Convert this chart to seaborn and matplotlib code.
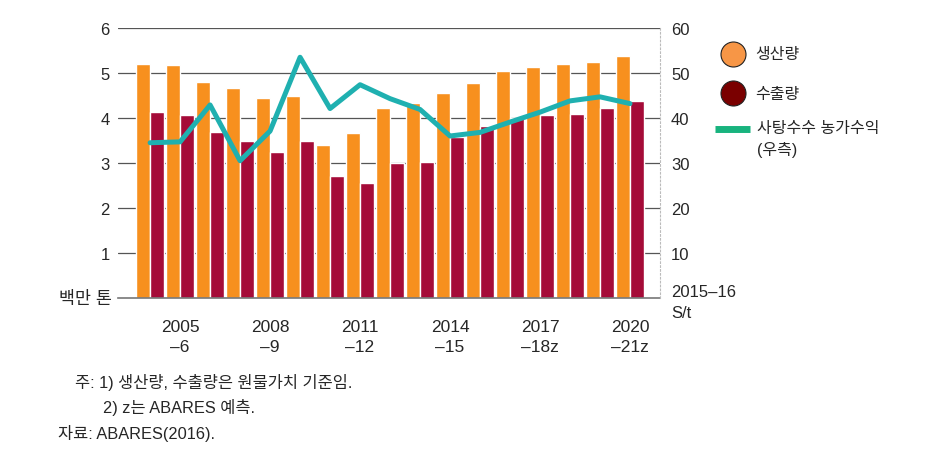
import matplotlib
matplotlib.use("Agg")
import matplotlib.pyplot as plt
import seaborn as sns
import pandas as pd
from matplotlib.lines import Line2D

# ---- data ----
years = ["2004-05", "2005-06", "2006-07", "2007-08", "2008-09", "2009-10",
         "2010-11", "2011-12", "2012-13", "2013-14", "2014-15", "2015-16",
         "2016-17", "2017-18", "2018-19", "2019-20", "2020-21"]
production = [5.21, 5.17, 4.80, 4.66, 4.45, 4.49, 3.40, 3.67, 4.23,
              4.34, 4.55, 4.77, 5.05, 5.14, 5.20, 5.25, 5.38]
exports = [4.14, 4.06, 3.70, 3.48, 3.25, 3.48, 2.72, 2.56, 2.99,
           3.03, 3.58, 3.82, 4.00, 4.06, 4.10, 4.22, 4.37]
income = [34.5, 34.7, 42.9, 30.5, 37.1, 53.5, 42.1, 47.4, 44.3,
          41.9, 36.0, 36.8, 39.1, 41.3, 43.8, 44.7, 43.2]
tick_labels = ["", "2005\n–6", "", "", "2008\n–9", "", "", "2011\n–12", "",
               "", "2014\n–15", "", "", "2017\n–18z", "", "", "2020\n–21z"]
series_names = ["생산량", "수출량"]
line_name = "사탕수수 농가수익\n(우측)"
left_ticks = [1, 2, 3, 4, 5, 6]
right_ticks = [0, 10, 20, 30, 40, 50, 60]
right_tick_labels = ["2015–16\nS/t", "10", "20", "30", "40", "50", "60"]
notes = ["주: 1) 생산량, 수출량은 원물가치 기준임.",
         "2) z는 ABARES 예측.",
         "자료: ABARES(2016)."]

sns.set_style("white")
plt.rcParams['font.family'] = ['Liberation Sans', 'Noto Sans CJK KR', 'DejaVu Sans']

ORANGE = "#F7901E"
RED = "#A50B38"
TEAL = "#1FB0B0"
GRID = "#555555"

df = pd.DataFrame({
    "year": years * 2,
    "value": production + exports,
    "series": [series_names[0]] * len(years) + [series_names[1]] * len(years),
})

fig = plt.figure(figsize=(9.4, 4.6), dpi=100)
W, H = 940, 460
ax = fig.add_axes([118 / W, 1 - 299 / H, (660 - 118) / W, (299 - 29) / H])

sns.barplot(data=df, x="year", y="value", hue="series", order=years,
            hue_order=series_names, palette=[ORANGE, RED], width=0.95,
            saturation=1, legend=False, ax=ax, zorder=2)
ax.set_ylim(0, 6)
ax.set_xlim(-1.07, 17.0)
ax.set_yticks(left_ticks)
ax.yaxis.grid(True, color=GRID, linewidth=0.9, zorder=0)
ax.set_axisbelow(True)
for s in ["left", "right", "top"]:
    ax.spines[s].set_visible(False)
ax.spines["bottom"].set_color("#777777")
ax.spines["bottom"].set_linewidth(1.2)
ax.set_xticks(range(len(years)))
ax.set_xticklabels(tick_labels, fontsize=12.5, linespacing=1.4)
ax.tick_params(axis="x", length=7, width=0.9, color="#888888", pad=8)
ax.tick_params(axis="y", length=0, pad=6, labelsize=12)
ax.set_xlabel("")
ax.set_ylabel("")
ax.text(-0.011, 0, "백만 톤", transform=ax.get_yaxis_transform(),
        ha="right", va="center", fontsize=12.5)

ax2 = ax.twinx()
sns.lineplot(x=list(range(len(years))), y=income, color=TEAL, linewidth=3.6,
             ax=ax2, legend=False)
ax2.set_ylim(0, 60)
ax2.set_yticks(right_ticks)
ax2.set_yticklabels(right_tick_labels, fontsize=12, linespacing=1.45)
ax2.tick_params(axis="y", length=0, pad=8)
for s in ["left", "top", "bottom"]:
    ax2.spines[s].set_visible(False)
ax2.spines["right"].set_color("#bbbbbb")
ax2.spines["right"].set_linestyle((0, (1.5, 2)))
ax2.spines["right"].set_linewidth(0.8)
ax2.set_xlim(-1.07, 17.0)

# legend
def px(x, y):
    return x / W, 1 - y / H

for (yy, col, name) in [(55, "#F79646", series_names[0]), (94, "#7A0000", series_names[1])]:
    fig.add_artist(Line2D([px(733, yy)[0]], [px(733, yy)[1]], marker="o",
                          markersize=18, markerfacecolor=col,
                          markeredgecolor="#222222", markeredgewidth=0.8,
                          linestyle="none", transform=fig.transFigure))
    fig.text(*px(755, yy), name, fontsize=11.5, va="center", ha="left")
fig.add_artist(Line2D([px(715, 130)[0], px(750, 130)[0]],
                      [px(715, 130)[1], px(750, 130)[1]],
                      color="#18B37E", linewidth=5, solid_capstyle="butt",
                      transform=fig.transFigure))
fig.text(*px(757, 121), line_name, fontsize=11.5, va="top", ha="left",
         linespacing=1.45, transform=fig.transFigure)

# notes
fig.text(*px(75, 383), notes[0], fontsize=11.8, va="center", ha="left")
fig.text(*px(103, 408), notes[1], fontsize=11.8, va="center", ha="left")
fig.text(*px(58, 434), notes[2], fontsize=11.8, va="center", ha="left")

fig.savefig("out.png", dpi=100)
